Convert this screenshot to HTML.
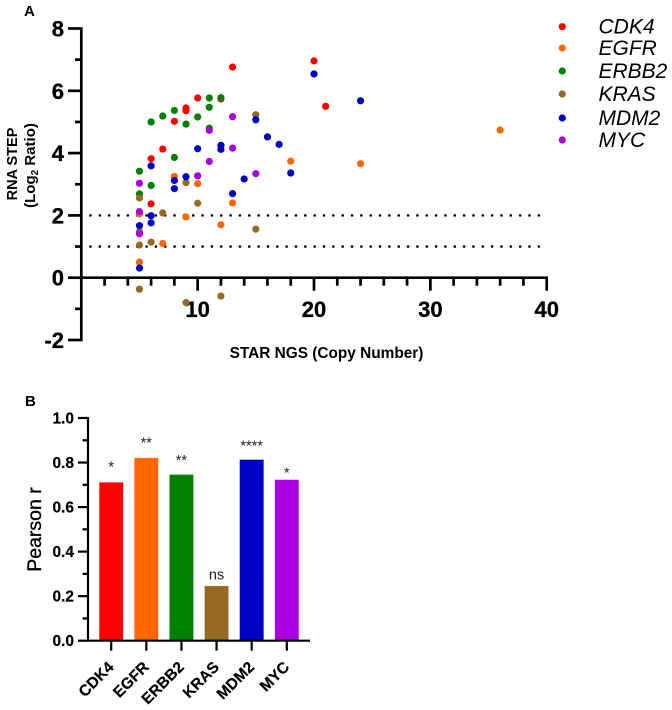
<!DOCTYPE html>
<html lang="en">
<head>
<meta charset="utf-8">
<title>STAR NGS vs RNA STEP</title>
<style>
html,body{margin:0;padding:0;background:#fff;}
svg{display:block;font-family:"Liberation Sans",Arial,sans-serif;}
</style>
</head>
<body>
<svg id="fig" width="672" height="710" viewBox="0 0 672 710" xmlns="http://www.w3.org/2000/svg">
  <text x="24" y="16" font-size="15" font-weight="bold">A</text>
  <text x="25" y="406" font-size="15" font-weight="bold">B</text>
  <text transform="translate(17,164) rotate(-90)" text-anchor="middle" font-size="14.5" font-weight="bold">RNA STEP</text>
  <text transform="translate(35,165.5) rotate(-90)" text-anchor="middle" font-size="15" font-weight="bold">(Log<tspan font-size="10" dy="3">2</tspan><tspan dy="-3"> Ratio)</tspan></text>
  <text x="326.5" y="358" text-anchor="middle" font-size="15.4" font-weight="bold">STAR NGS (Copy Number)</text>
  <text transform="translate(41,529.5) rotate(-90)" text-anchor="middle" font-size="19.5" style="stroke:#000;stroke-width:.35">Pearson r</text>
  <g id="a-axes"></g>
  <g id="a-marks"></g>
  <g id="legend"></g>
  <g id="b-marks"></g>
  <g id="b-axes"></g>
</svg>
<script>
var genes = ['CDK4', 'EGFR', 'ERBB2', 'KRAS', 'MDM2', 'MYC'];
var colors = ['#ff0000', '#ff6600', '#008000', '#966a22', '#0000c4', '#aa00e0'];

var cdk4X = [13, 10, 12, 9, 9, 8, 7, 6, 6, 20, 21];
var cdk4Y = [6.76, 5.77, 5.74, 5.45, 5.36, 5.02, 4.13, 3.82, 2.37, 6.96, 5.5];
var egfrX = [8, 10, 13, 9, 12, 7, 5, 5, 18, 24, 36];
var egfrY = [3.25, 3.02, 2.4, 1.95, 1.7, 1.1, 0.5, 2.05, 3.74, 3.66, 4.74];
var erbb2X = [11, 12, 11, 8, 7, 10, 6, 9, 11, 8, 5, 6, 5];
var erbb2Y = [5.77, 5.78, 5.47, 5.37, 5.19, 5.16, 5.0, 4.93, 4.8, 3.86, 3.42, 2.96, 2.69];
var krasX = [15, 9, 10, 5, 7, 5, 6, 5, 5, 9, 12, 15];
var krasY = [5.23, 3.05, 2.39, 2.56, 2.08, 1.48, 1.14, 1.05, -0.37, -0.8, -0.59, 1.56];
var mdm2X = [10, 12, 12, 6, 8, 8, 9, 14, 13, 6, 6, 5, 5, 15, 16, 17, 18, 20, 24];
var mdm2Y = [4.14, 4.25, 4.12, 3.59, 3.12, 2.86, 3.24, 3.17, 2.7, 1.99, 1.76, 1.67, 0.31, 5.07, 4.52, 4.28, 3.36, 6.54, 5.68];
var mycX = [13, 11, 13, 11, 15, 10, 5, 5, 5];
var mycY = [5.17, 4.73, 4.16, 3.73, 3.34, 3.27, 3.03, 2.12, 1.41];

var seriesX = [cdk4X, egfrX, erbb2X, krasX, mdm2X, mycX];
var seriesY = [cdk4Y, egfrY, erbb2Y, krasY, mdm2Y, mycY];

var xTickLabels = [10, 20, 30, 40];
var yTickLabels = [8, 6, 4, 2, 0, -2];
var thresholds = [2, 1];

var pearson = [0.71, 0.82, 0.745, 0.245, 0.812, 0.722];
var significance = ['*', '**', '**', 'ns', '****', '*'];
var significanceLift = [0.05, 0.047, 0.043, 0.03, 0.041, 0.011];
var barTickLabels = ['1.0', '0.8', '0.6', '0.4', '0.2', '0.0'];

var NS = 'http://www.w3.org/2000/svg';
function make(parent, tag, attrs, txt) {
  var el = document.createElementNS(NS, tag);
  for (var k in attrs) el.setAttribute(k, attrs[k]);
  if (txt !== undefined) el.textContent = txt;
  parent.appendChild(el);
  
  return el;
}
function ax(v) { return 81.3 + v * 11.635; }
function ay(v) { return 277.7 - v * 31.15; }
function bx(i) { return 111.2 + i * 35.12; }
function by(v) { return 640.7 - v * 222.7; }

var aAxes = document.getElementById('a-axes');
var aMarks = document.getElementById('a-marks');
var legend = document.getElementById('legend');
var bMarks = document.getElementById('b-marks');
var bAxes = document.getElementById('b-axes');
var el, i, j, v;

/* threshold dotted lines */
thresholds.forEach(function (t) {
  el = make(aAxes, 'line', {x1: 90.5, x2: 540, y1: ay(t), y2: ay(t), stroke: '#000', 'stroke-width': 2.6, 'stroke-linecap': 'round', 'stroke-dasharray': '0.01 9.33'});
  
});

/* scatter axes */
el = make(aAxes, 'line', {x1: ax(0), x2: ax(0), y1: ay(8) - 1.3, y2: ay(-2) + 1.3, stroke: '#000', 'stroke-width': 2.7});

el = make(aAxes, 'line', {x1: ax(0), x2: ax(40) + 1.3, y1: ay(0), y2: ay(0), stroke: '#000', 'stroke-width': 2.7});

for (v = -2; v <= 8; v++) {
  var yMajor = v % 2 === 0;
  el = make(aAxes, 'line', {x1: yMajor ? 68 : 75, x2: ax(0), y1: ay(v), y2: ay(v), stroke: '#000', 'stroke-width': 2.7});
  
}
for (v = 2; v <= 40; v += 2) {
  var xMajor = v % 10 === 0;
  el = make(aAxes, 'line', {x1: ax(v), x2: ax(v), y1: ay(0), y2: ay(0) + (xMajor ? 13 : 8), stroke: '#000', 'stroke-width': 2.7});
  
}
yTickLabels.forEach(function (t) {
  el = make(aAxes, 'text', {x: 64, y: ay(t) + 8, 'text-anchor': 'end', 'font-size': 22, 'font-weight': 'bold', stroke: '#000', 'stroke-width': 0.3}, String(t));
  
});
xTickLabels.forEach(function (t) {
  el = make(aAxes, 'text', {x: ax(t), y: 317, 'text-anchor': 'middle', 'font-size': 22, 'font-weight': 'bold', stroke: '#000', 'stroke-width': 0.3}, String(t));
  
});

/* scatter points */
for (i = 0; i < genes.length; i++) {
  for (j = 0; j < seriesX[i].length; j++) {
    el = make(aMarks, 'circle', {cx: ax(seriesX[i][j]), cy: ay(seriesY[i][j]), r: 3.6, fill: colors[i]});
    
  }
}

/* legend */
var legendRows = [26.7, 48, 71, 94, 118, 140];
genes.forEach(function (g, k) {
  el = make(legend, 'circle', {cx: 562.3, cy: legendRows[k], r: 3.6, fill: colors[k]});
  
  el = make(legend, 'text', {x: 598.5, y: legendRows[k] + 7, 'font-size': 21, 'font-style': 'italic'}, g);
  
});

/* bars */
pearson.forEach(function (p, k) {
  el = make(bMarks, 'rect', {x: bx(k) - 11.8, y: by(p), width: 23.6, height: by(0) - by(p), fill: colors[k], stroke: colors[k], 'stroke-opacity': 0.3, 'stroke-width': 1});
  
  var sig = significance[k];
  var isNs = sig === 'ns';
  el = make(bMarks, 'text', {x: bx(k), y: by(p + significanceLift[k]), 'text-anchor': 'middle', 'font-size': 14.5, fill: '#222'}, sig);
  
});

/* bar axes */
el = make(bAxes, 'line', {x1: 88, x2: 88, y1: by(1) - 1, y2: by(0) + 1, stroke: '#000', 'stroke-width': 2.2});

el = make(bAxes, 'line', {x1: 88, x2: 310, y1: by(0), y2: by(0), stroke: '#000', 'stroke-width': 2.2});

for (i = 0; i <= 10; i++) {
  el = make(bAxes, 'line', {x1: i % 2 === 0 ? 78 : 82.5, x2: 88, y1: by(i / 10), y2: by(i / 10), stroke: '#000', 'stroke-width': 2.2});
  
}
barTickLabels.forEach(function (t) {
  el = make(bAxes, 'text', {x: 74, y: by(parseFloat(t)) + 5.5, 'text-anchor': 'end', 'font-size': 15.5, 'font-weight': 'bold', stroke: '#000', 'stroke-width': 0.2}, t);
  
});
genes.forEach(function (g, k) {
  el = make(bAxes, 'line', {x1: bx(k), x2: bx(k), y1: by(0), y2: by(0) + 10, stroke: '#000', 'stroke-width': 2.2});
  
  el = make(bAxes, 'text', {transform: 'translate(' + (bx(k) + 3.5) + ',668) rotate(-45)', 'text-anchor': 'end', 'font-size': 15.5, 'font-weight': 'bold', stroke: '#000', 'stroke-width': 0.2}, g);
  
});
</script>
</body>
</html>
